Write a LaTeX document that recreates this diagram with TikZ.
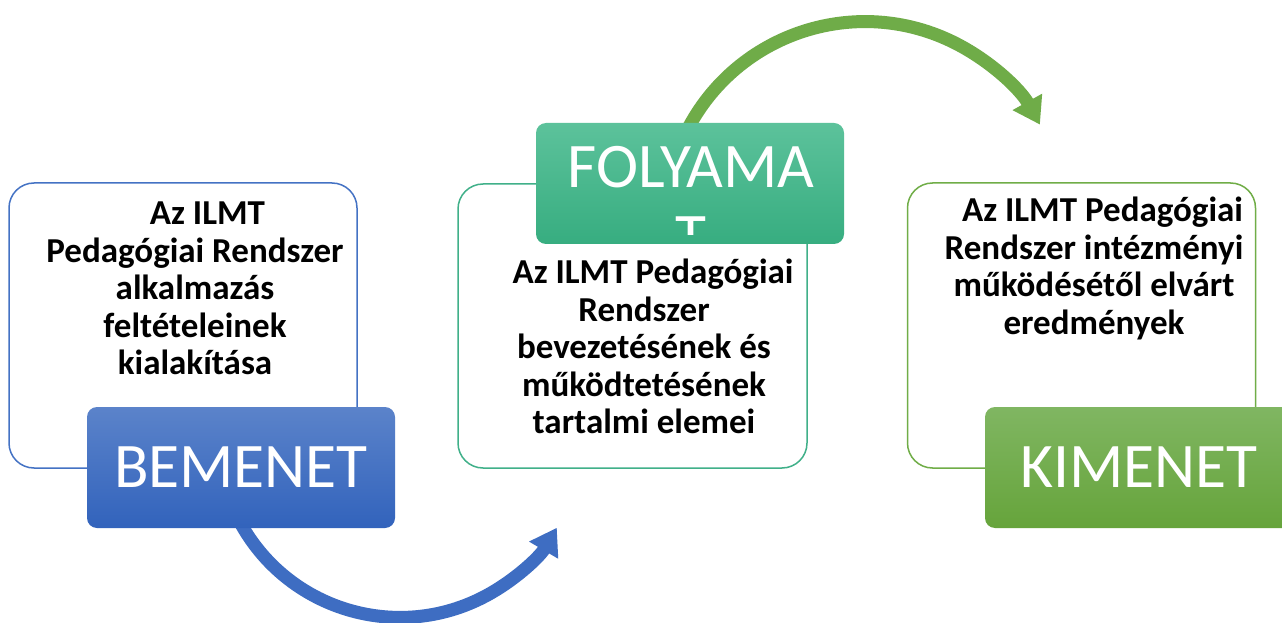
\documentclass[tikz,border=0pt]{standalone}
\usepackage{fontspec}
\setmainfont{Carlito}
\usetikzlibrary{arrows.meta,calc}
\definecolor{blueline}{HTML}{4472C4}
\definecolor{tealline}{HTML}{40B089}
\definecolor{greenline}{HTML}{70AD47}
\definecolor{bluetop}{HTML}{5B83CA}
\definecolor{bluebot}{HTML}{3263BC}
\definecolor{tealtop}{HTML}{5CC29B}
\definecolor{tealbot}{HTML}{37AD80}
\definecolor{greentop}{HTML}{80B662}
\definecolor{greenbot}{HTML}{66A43B}
\definecolor{bluearrow}{HTML}{3E6DC2}
\definecolor{greenarrow}{HTML}{6FAC48}
\tikzset{
  outbox/.style={draw, line width=1.5pt, rounded corners=25pt, fill=white, minimum width=348pt, minimum height=285pt, inner sep=0pt},
  tagbox/.style={rounded corners=10pt, minimum width=308pt, minimum height=121pt, inner sep=0pt, text=white, font=\fontsize{63.5}{70}\selectfont},
  bodytext/.style={align=center, inner sep=0pt, anchor=north, font=\fontsize{35}{37.5}\selectfont\bfseries},
  bigarrow/.style={line width=13pt, -{Triangle[width=32pt,length=26pt]}}
}
\begin{document}
\begin{tikzpicture}[x=1pt,y=1pt]
\useasboundingbox (0,0) rectangle (1282,622);
\clip (0,0) rectangle (1282,622);
\fill[white] (0,0) rectangle (1282,622);

\node[outbox, draw=blueline] (inbox) at (183,296.5) {};
\node[outbox, draw=tealline, minimum width=349pt, minimum height=284pt] (flowbox) at (632.5,296) {};
\node[outbox, draw=greenline] (outbox) at (1081.5,296.5) {};

\coordinate (inC) at (400,186.6);
\coordinate (flowC) at (865,400.4);
\coordinate (inTail) at ($(inC)+(208:182pt)$);
\coordinate (flowTail) at ($(flowC)+(153:200pt)$);
\draw[bigarrow, bluearrow] (inTail) arc[start angle=208, end angle=329.5, radius=182pt];
\draw[bigarrow, greenarrow] (flowTail) arc[start angle=153, end angle=29, radius=200pt];

\node[tagbox, top color=bluetop, bottom color=bluebot] (inlabel) at (241,154.5) {BEMENET};
\node[tagbox, top color=tealtop, bottom color=tealbot] (flowlabel) at (690,438.5) {};
\node[tagbox, top color=greentop, bottom color=greenbot] (outlabel) at (1139,154.5) {KIMENET};
\begin{scope}
\clip ([yshift=10pt]flowlabel.south west) rectangle (flowlabel.north east);
\node[align=center, inner sep=0pt, text=white, font=\fontsize{63.5}{70}\selectfont] (flowname) at (691,420) {FOLYAMA\\T};
\end{scope}

\node[bodytext] (intext) at (195,420) {\hspace*{25pt}Az ILMT\\Pedagógiai Rendszer\\alkalmazás\\feltételeinek\\kialakítása};
\node[bodytext] (flowtext) at (644,363) {\hspace*{18pt}Az ILMT Pedagógiai\\Rendszer\\bevezetésének és\\működtetésének\\tartalmi elemei};
\node[bodytext] (outtext) at (1094,425) {\hspace*{17pt}Az ILMT Pedagógiai\\Rendszer intézményi\\működésétől elvárt\\eredmények};
\end{tikzpicture}
\end{document}
